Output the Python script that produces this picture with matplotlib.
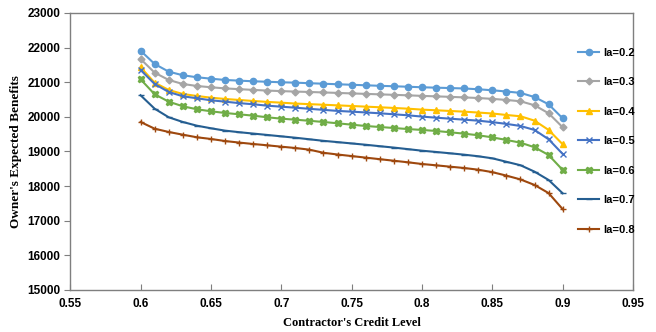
import numpy as np
from matplotlib import pyplot as plt

credit = [0.60, 0.61, 0.62, 0.63, 0.64, 0.65, 0.66, 0.67, 0.68, 0.69, 0.70,
          0.71, 0.72, 0.73, 0.74, 0.75, 0.76, 0.77, 0.78, 0.79, 0.80,
          0.81, 0.82, 0.83, 0.84, 0.85, 0.86, 0.87, 0.88, 0.89, 0.90]

ia_02 = [21910, 21526, 21304, 21200, 21142, 21101, 21064, 21044, 21026, 21012, 20997,
         20986, 20970, 20955, 20940, 20925, 20910, 20895, 20882, 20868, 20853,
         20841, 20830, 20818, 20795, 20766, 20730, 20690, 20570, 20360, 19955]
ia_03 = [21670, 21275, 21064, 20948, 20890, 20853, 20820, 20798, 20777, 20757, 20742,
         20728, 20717, 20703, 20690, 20675, 20662, 20648, 20634, 20620, 20604,
         20590, 20576, 20560, 20542, 20518, 20486, 20448, 20332, 20101, 19697]
ia_04 = [21431, 20986, 20775, 20659, 20601, 20552, 20515, 20486, 20457, 20430, 20408,
         20382, 20365, 20348, 20330, 20312, 20293, 20275, 20255, 20234, 20207,
         20188, 20168, 20148, 20122, 20095, 20052, 20015, 19888, 19619, 19205]
ia_05 = [21353, 20948, 20717, 20593, 20535, 20477, 20437, 20395, 20362, 20321, 20292,
         20263, 20230, 20200, 20170, 20148, 20125, 20101, 20072, 20043, 20005,
         19974, 19945, 19916, 19888, 19845, 19795, 19734, 19619, 19350, 18925]
ia_06 = [21084, 20650, 20437, 20304, 20217, 20159, 20110, 20072, 20032, 19986, 19945,
         19916, 19884, 19850, 19812, 19772, 19734, 19705, 19676, 19645, 19620,
         19590, 19552, 19512, 19466, 19405, 19330, 19252, 19119, 18896, 18463]
ia_07 = [20622, 20234, 19986, 19850, 19743, 19668, 19600, 19555, 19515, 19475, 19435,
         19395, 19350, 19305, 19268, 19230, 19192, 19150, 19110, 19065, 19020,
         18983, 18945, 18905, 18859, 18800, 18700, 18600, 18414, 18174, 17789]
ia_08 = [19850, 19656, 19561, 19483, 19408, 19359, 19300, 19255, 19214, 19176, 19136,
         19098, 19050, 18960, 18910, 18865, 18820, 18775, 18730, 18685, 18636,
         18598, 18558, 18520, 18471, 18400, 18300, 18190, 18030, 17795, 17330]

labels = ["Ia=0.2", "Ia=0.3", "Ia=0.4", "Ia=0.5", "Ia=0.6", "Ia=0.7", "Ia=0.8"]
colors = ["#5B9BD5", "#A5A5A5", "#FFC000", "#4472C4", "#70AD47", "#255E91", "#9E480E"]
markers = ["o", "D", "^", "x", "X", "_", "+"]
msizes = [4.5, 3.5, 4.5, 4.5, 4.5, 4, 5]

fig = plt.figure(figsize=(6.56, 3.32), dpi=100)
ax = fig.add_axes([0.107, 0.127, 0.858, 0.834])

series = [ia_02, ia_03, ia_04, ia_05, ia_06, ia_07, ia_08]
for y, lab, c, m, ms in zip(series, labels, colors, markers, msizes):
    ax.plot(credit, y, color=c, marker=m, markersize=ms, linewidth=1.5,
            markeredgewidth=1.0, label=lab)

ax.set_xlim(0.55, 0.95)
ax.set_ylim(15000, 23000)
ax.set_xticks(np.arange(0.55, 0.951, 0.05))
ax.set_xticklabels(["0.55", "0.6", "0.65", "0.7", "0.75", "0.8", "0.85", "0.9", "0.95"])
ax.set_yticks(range(15000, 23001, 1000))

for s in ax.spines.values():
    s.set_color("#7f7f7f")
    s.set_linewidth(1.0)

ax.tick_params(axis="x", direction="in", length=4, color="#7f7f7f", pad=6)
ax.tick_params(axis="y", direction="out", length=4, color="#7f7f7f", pad=3)
for t in ax.get_xticklabels() + ax.get_yticklabels():
    t.set_fontfamily("Liberation Sans")
    t.set_fontweight("bold")
    t.set_fontsize(8.5)

ax.set_xlabel("Contractor's Credit Level", fontfamily="Liberation Serif",
              fontweight="bold", fontsize=9, labelpad=5)
ax.set_ylabel("Owner's Expected Benefits", fontfamily="Liberation Serif",
              fontweight="bold", fontsize=9.5, labelpad=4)

leg = ax.legend(loc="upper left", bbox_to_anchor=(0.895, 0.89), frameon=False,
                prop={"family": "Liberation Sans", "weight": "bold", "size": 8},
                labelspacing=1.75, handlelength=1.9, handletextpad=0.3,
                borderaxespad=0, numpoints=1)

fig.savefig("out.png", dpi=100)
